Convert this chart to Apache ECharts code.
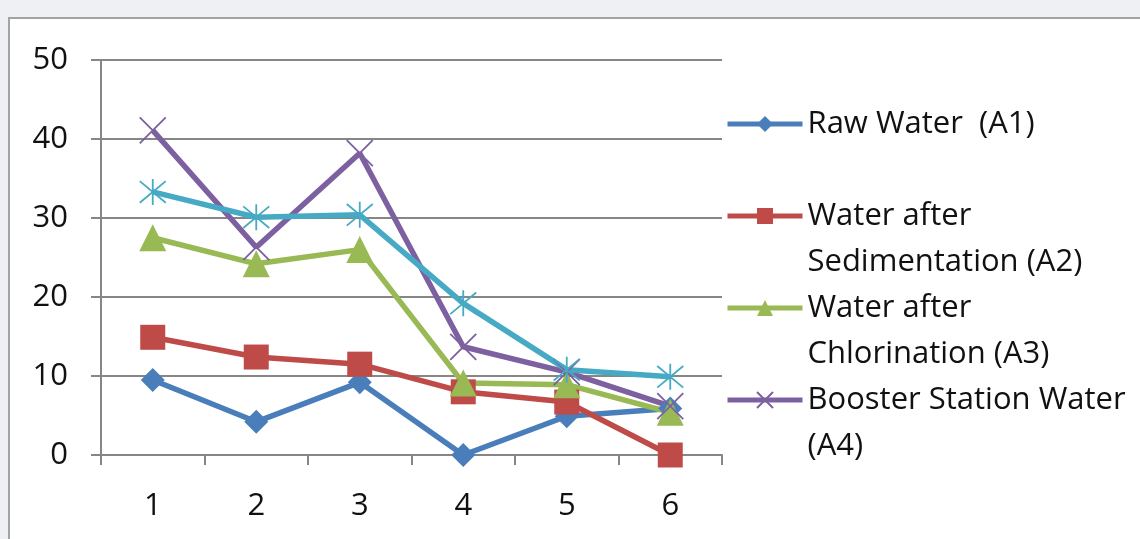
<!DOCTYPE html>
<html>
<head>
<meta charset="utf-8">
<script src="https://cdn.jsdelivr.net/npm/echarts@6/dist/echarts.min.js"></script>
<style>
  html, body { margin: 0; padding: 0; background: #eef0f3; }
  #frame { position: absolute; left: 8px; top: 17px; width: 1200px; height: 600px;
           background: #ffffff; border: 2px solid #a3a3a3; box-sizing: border-box; }
  #chart { position: absolute; left: 0; top: 0; width: 1140px; height: 539px; }
</style>
</head>
<body>
<div id="frame"></div>
<div id="chart"></div>
<script>
// Sampling points along the treatment/distribution line
const categories = ['1', '2', '3', '4', '5', '6'];
const yTicks = [0, 10, 20, 30, 40, 50];

const rawWater     = [9.5, 4.2, 9.2, 0, 4.9, 5.9];
const afterSedim   = [14.9, 12.4, 11.5, 8.0, 6.7, 0];
const afterChlor   = [27.5, 24.2, 26.0, 9.1, 8.9, 5.4];
const booster      = [41.1, 26.3, 38.2, 13.7, 10.5, 6.2];
const distribution = [33.3, 30.1, 30.4, 19.2, 10.8, 9.9];

const names = {
  a1: 'Raw Water  (A1)',
  a2: 'Water after Sedimentation (A2)',
  a3: 'Water after Chlorination (A3)',
  a4: 'Booster Station Water (A4)',
  a5: 'Distribution Water (A5)'
};
// Wrapped legend labels; the leading blank line keeps the icon beside the first line
const legendText = {
  [names.a1]: 'Raw Water  (A1)',
  [names.a2]: '\nWater after\nSedimentation (A2)',
  [names.a3]: '\nWater after\nChlorination (A3)',
  [names.a4]: '\nBooster Station Water\n(A4)'
};

const colors = { a1: '#4a7ebb', a2: '#be4b48', a3: '#98b954', a4: '#7d60a0', a5: '#46aac5' };
const FONT = '"Open Sans", Lato, sans-serif';
const TEXT_COLOR = '#111111';
const FONT_SIZE = 31;

const crossPath = 'path://M0,0L10,10M10,0L0,10';
const starPath  = 'path://M0,0L10,10M10,0L0,10M5,-1L5,11';

function lineSeries(name, data, color, symbol, size, hollow) {
  return {
    name, type: 'line', data,
    symbol, symbolSize: size,
    color,
    lineStyle: { color, width: 5.5 },
    itemStyle: hollow
      ? { color: 'rgba(0,0,0,0)', borderColor: color, borderWidth: 1.8 }
      : { color, borderWidth: 0 },
    emphasis: { disabled: true },
    animation: false
  };
}

function legendFor(name, top) {
  return {
    data: [name], left: 725, top, padding: 0, orient: 'vertical',
    itemWidth: 75, itemHeight: 20, itemGap: 0,
    selectedMode: false,
    lineStyle: { width: 5 },
    formatter: n => legendText[n],
    textStyle: { fontFamily: FONT, fontSize: FONT_SIZE, color: TEXT_COLOR, lineHeight: 46 }
  };
}

const chart = echarts.init(document.getElementById('chart'), null, { renderer: 'canvas' });
chart.setOption({
  backgroundColor: 'transparent',
  animation: false,
  grid: { left: 101, right: 418, top: 60, bottom: 84, containLabel: false },
  legend: [
    legendFor(names.a1, 101),
    legendFor(names.a2, 147),
    legendFor(names.a3, 239),
    legendFor(names.a4, 331)
  ],
  xAxis: {
    type: 'category', data: categories, boundaryGap: true,
    axisLine: { lineStyle: { color: '#868686', width: 2 } },
    axisTick: { show: true, length: 10, inside: false, lineStyle: { color: '#868686', width: 2 } },
    axisLabel: { fontFamily: FONT, fontSize: FONT_SIZE, color: TEXT_COLOR, margin: 36 },
    splitLine: { show: false }
  },
  yAxis: {
    type: 'value', min: yTicks[0], max: yTicks[yTicks.length - 1], interval: 10,
    axisLine: { show: true, lineStyle: { color: '#868686', width: 2 } },
    axisTick: { show: true, length: 10, lineStyle: { color: '#868686', width: 2 } },
    axisLabel: { fontFamily: FONT, fontSize: FONT_SIZE, color: TEXT_COLOR, margin: 33 },
    splitLine: { show: true, lineStyle: { color: '#868686', width: 2 } }
  },
  series: [
    lineSeries(names.a1, rawWater, colors.a1, 'diamond', 24, false),
    lineSeries(names.a2, afterSedim, colors.a2, 'rect', 25, false),
    lineSeries(names.a3, afterChlor, colors.a3, 'triangle', 27, false),
    lineSeries(names.a4, booster, colors.a4, crossPath, 26, true),
    lineSeries(names.a5, distribution, colors.a5, starPath, 26, true)
  ]
});
</script>
</body>
</html>
